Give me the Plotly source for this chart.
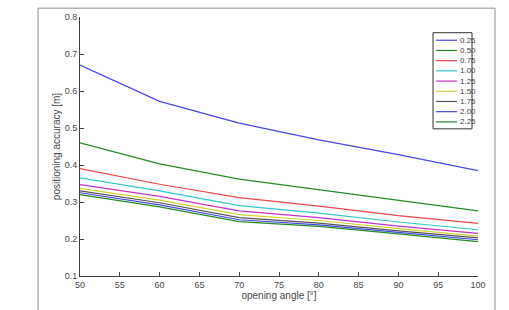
import plotly.graph_objects as go

angles = [50, 60, 70, 80, 90, 100]
series_names = ["0.25", "0.50", "0.75", "1.00", "1.25", "1.50", "1.75", "2.00", "2.25"]
acc_025 = [0.670, 0.572, 0.513, 0.468, 0.428, 0.385]
acc_050 = [0.460, 0.403, 0.362, 0.334, 0.305, 0.276]
acc_075 = [0.390, 0.348, 0.312, 0.289, 0.263, 0.242]
acc_100 = [0.365, 0.330, 0.290, 0.270, 0.246, 0.225]
acc_125 = [0.347, 0.315, 0.276, 0.258, 0.235, 0.215]
acc_150 = [0.337, 0.305, 0.266, 0.250, 0.228, 0.208]
acc_175 = [0.330, 0.298, 0.258, 0.243, 0.222, 0.203]
acc_200 = [0.325, 0.292, 0.252, 0.238, 0.218, 0.198]
acc_225 = [0.320, 0.287, 0.247, 0.234, 0.214, 0.193]
all_series = [acc_025, acc_050, acc_075, acc_100, acc_125, acc_150, acc_175, acc_200, acc_225]
colors = ["#4646ee", "#238c23", "#f04646", "#32c8c8", "#c832c8", "#d2d232", "#555555", "#4646ee", "#238c23"]

W, H = 509, 310
L, R, T, B = 80, 31, 14, 32
pw, ph = W - L - R, H - T - B

def px(x):
    return (x - L) / pw

def py(y):
    return (H - B - y) / ph

fig = go.Figure()
for name, vals, col in zip(series_names, all_series, colors):
    fig.add_trace(go.Scatter(x=angles, y=vals, mode="lines", name=name,
                             line=dict(color=col, width=1.2), showlegend=False))

shapes = []
annotations = []
# figure frame
shapes.append(dict(type="rect", xref="paper", yref="paper", x0=px(38), x1=px(495), y0=py(320), y1=py(5),
                   line=dict(color="#8c8c8c", width=1), layer="below"))
# manual legend box
shapes.append(dict(type="rect", xref="paper", yref="paper", x0=px(433), x1=px(472), y0=py(128), y1=py(30),
                   line=dict(color="#333333", width=1), fillcolor="white"))
y0 = 37.7
dy = 10.4
for i, (name, col) in enumerate(zip(series_names, colors)):
    yy = y0 + i * dy
    shapes.append(dict(type="line", xref="paper", yref="paper", x0=px(436), x1=px(457), y0=py(yy), y1=py(yy),
                       line=dict(color=col, width=1.2)))
    annotations.append(dict(xref="paper", yref="paper", x=px(457.5), y=py(yy), text=name, showarrow=False,
                            xanchor="left", yanchor="middle", font=dict(size=8, color="#444444",
                            family="Liberation Sans, Arial, sans-serif")))

fig.update_layout(
    width=W, height=H,
    margin=dict(l=L, r=R, t=T, b=B),
    paper_bgcolor="white", plot_bgcolor="white",
    font=dict(family="Liberation Sans, Arial, sans-serif", size=9, color="#484848"),
    shapes=shapes, annotations=annotations,
    xaxis=dict(range=[50, 100], tickvals=list(range(50, 101, 5)), ticks="inside", ticklen=4,
               tickcolor="#404040", showline=True, linecolor="#404040", linewidth=1, showgrid=False,
               zeroline=False, tickfont=dict(size=9, color="#484848"),
               title=dict(text="opening angle [°]", standoff=1, font=dict(size=10, color="#484848"))),
    yaxis=dict(range=[0.1, 0.8], tickvals=[0.1, 0.2, 0.3, 0.4, 0.5, 0.6, 0.7, 0.8], ticks="inside", ticklen=4,
               tickcolor="#404040", showline=True, linecolor="#404040", linewidth=1, showgrid=False,
               zeroline=False, tickfont=dict(size=9, color="#484848"), tickformat=".1f",
               title=dict(text="positioning accuracy [m]", standoff=2, font=dict(size=10, color="#484848"))),
)

fig.write_html("out.html")
